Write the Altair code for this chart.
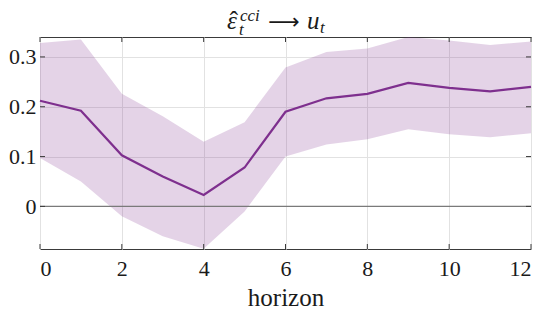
import altair as alt
import pandas as pd

horizon = list(range(13))
irf = [0.212, 0.192, 0.1025, 0.060, 0.023, 0.078, 0.190, 0.217, 0.226, 0.248, 0.238, 0.231, 0.240]
upper = [0.328, 0.335, 0.226, 0.181, 0.130, 0.169, 0.279, 0.310, 0.317, 0.340, 0.333, 0.324, 0.331]
lower = [0.097, 0.050, -0.020, -0.060, -0.085, -0.010, 0.100, 0.124, 0.135, 0.155, 0.145, 0.139, 0.147]
x_ticks = [0, 2, 4, 6, 8, 10, 12]
y_ticks = [0, 0.1, 0.2, 0.3]
title_parts = ["ε", "ˆ", "cci", "t", "⟶", "u", "t"]
x_title = "horizon"

df = pd.DataFrame({"h": horizon, "irf": irf, "lo": lower, "hi": upper})
xt = pd.DataFrame({"t": x_ticks})
yt = pd.DataFrame({"t": y_ticks})

PURPLE = "#7E2F8E"
FONT = "Liberation Serif"
AXC = "#3a3a3a"
TXT = "#1a1a1a"
W, H = 491, 212

xs = alt.Scale(domain=[0, 12], nice=False, zero=False)
ys = alt.Scale(domain=[-0.0855, 0.34], nice=False, zero=False)

xaxis = alt.Axis(values=x_ticks, title=x_title, labelPadding=9, titlePadding=6,
                 labelFont=FONT, titleFont=FONT, labelFontSize=22, titleFontSize=25,
                 labelColor=TXT, titleColor=TXT, titleFontWeight="normal",
                 grid=True, gridColor="#e2e2e2", domain=False, ticks=False)
yaxis = alt.Axis(values=y_ticks, title=None, labelPadding=4, labelFont=FONT,
                 labelFontSize=22, labelColor=TXT,
                 grid=True, gridColor="#e2e2e2", domain=False, ticks=False,
                 labelExpr="datum.value == 0 ? '0' : format(datum.value, '.1f')")

band = alt.Chart(df).mark_area(color=PURPLE, opacity=0.21).encode(
    x=alt.X("h:Q", scale=xs, axis=xaxis),
    y=alt.Y("lo:Q", scale=ys, axis=yaxis),
    y2="hi:Q",
)

zero = alt.Chart(pd.DataFrame({"z": [0]})).mark_rule(color="#7a7a7a", strokeWidth=1.3).encode(
    y=alt.Y("z:Q", scale=ys, axis=yaxis)
)

line = alt.Chart(df).mark_line(color=PURPLE, strokeWidth=2.2).encode(
    x=alt.X("h:Q", scale=xs, axis=xaxis),
    y=alt.Y("irf:Q", scale=ys, axis=yaxis),
)

tick_style = dict(color=AXC, strokeWidth=1)
xt_bot = alt.Chart(xt).mark_rule(**tick_style).encode(
    x=alt.X("t:Q", scale=xs, axis=xaxis), y=alt.value(H), y2=alt.value(H - 5))
xt_top = alt.Chart(xt).mark_rule(**tick_style).encode(
    x=alt.X("t:Q", scale=xs, axis=xaxis), y=alt.value(0), y2=alt.value(5))
yt_left = alt.Chart(yt).mark_rule(**tick_style).encode(
    y=alt.Y("t:Q", scale=ys, axis=yaxis), x=alt.value(0), x2=alt.value(5))
yt_right = alt.Chart(yt).mark_rule(**tick_style).encode(
    y=alt.Y("t:Q", scale=ys, axis=yaxis), x=alt.value(W), x2=alt.value(W - 5))


def tpart(text, x, y, size, align="left", italic=True, font=FONT):
    return alt.Chart(pd.DataFrame({"k": [0]})).mark_text(
        text=text, font=font, fontSize=size, fontStyle="italic" if italic else "normal",
        color=TXT, align=align, baseline="alphabetic",
    ).encode(x=alt.value(x), y=alt.value(y))


title_layers = [
    tpart(title_parts[0], 187, -8, 25),
    tpart(title_parts[1], 194, -8, 25, align="center", italic=False),
    tpart(title_parts[2], 200, -16, 17),
    tpart(title_parts[3], 199, -2, 17),
    tpart(title_parts[4], 244, -8, 22, align="center", italic=False, font="DejaVu Sans"),
    tpart(title_parts[5], 267, -8, 25),
    tpart(title_parts[6], 280, -4, 17),
]

chart = alt.layer(band, zero, line, xt_bot, xt_top, yt_left, yt_right, *title_layers).properties(
    width=W, height=H,
    autosize=alt.AutoSizeParams(type="none"),
    padding={"left": 32, "top": 29, "right": 6, "bottom": 63},
).configure_view(stroke=AXC, strokeWidth=1)

chart.save("out.html", embed_options={"renderer": "svg", "actions": False})
